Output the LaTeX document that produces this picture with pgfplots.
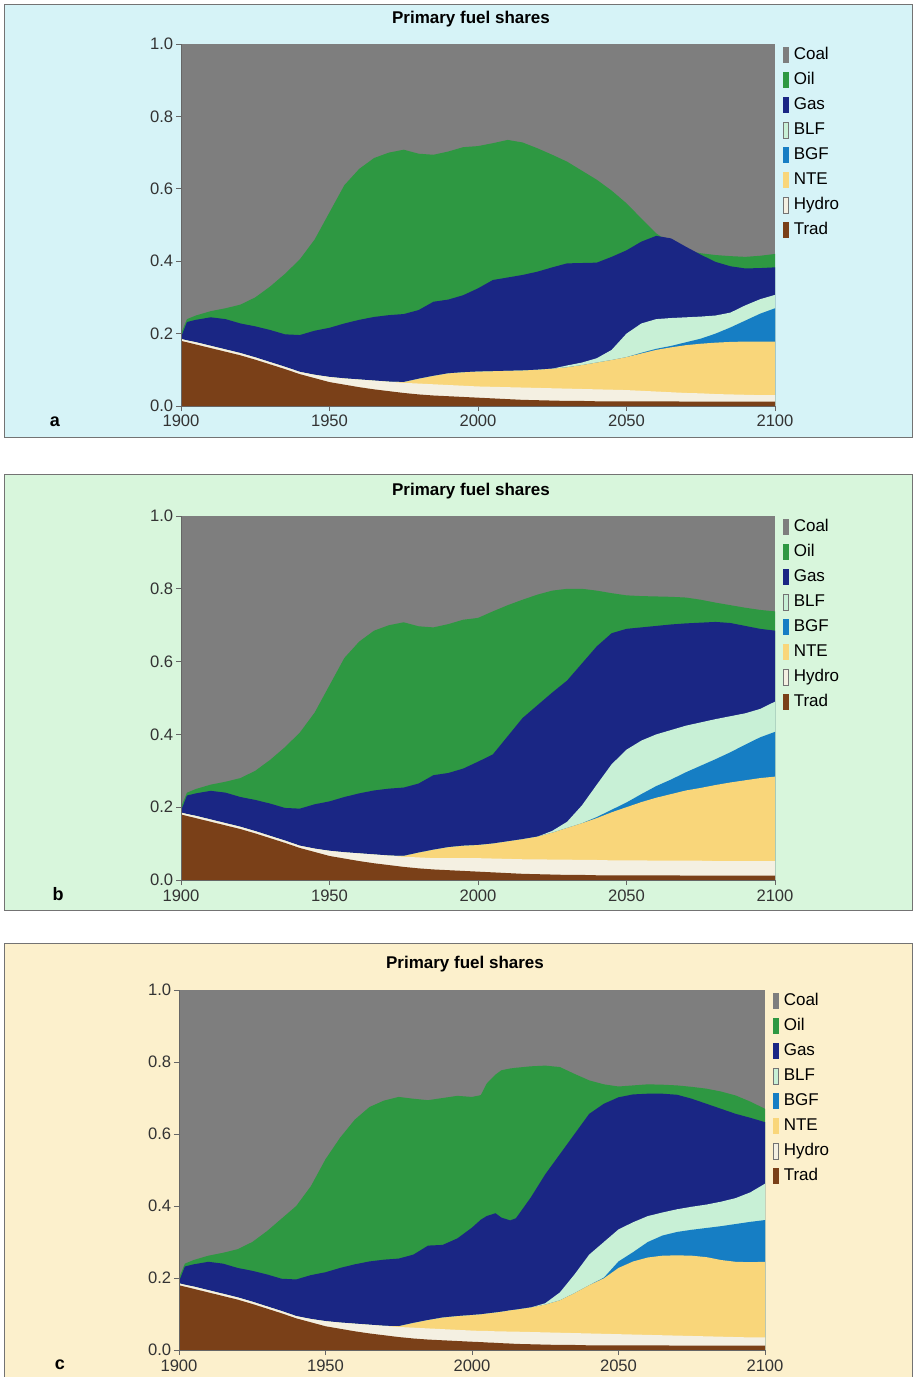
\documentclass[border=0pt]{standalone}
\usepackage{fontspec}
\setmainfont{Liberation Sans}
\usepackage{pgfplots}
\usepackage{pgfplotstable}
\pgfplotsset{compat=1.18}

\definecolor{coalc}{RGB}{126,126,126}
\definecolor{oilc}{RGB}{46,152,66}
\definecolor{gasc}{RGB}{26,38,132}
\definecolor{blfc}{RGB}{200,240,214}
\definecolor{bgfc}{RGB}{22,126,196}
\definecolor{ntec}{RGB}{249,214,122}
\definecolor{hydroc}{RGB}{244,240,226}
\definecolor{tradc}{RGB}{122,64,24}
\definecolor{bga}{RGB}{214,243,247}
\definecolor{bgb}{RGB}{216,246,220}
\definecolor{bgc}{RGB}{252,240,204}

\pgfplotstableread{
yr trad hydro nte bgf blf gas oil
1900 .180 .185 .185 .185 .185 .190 .200
1902 .176 .181 .181 .181 .181 .232 .240
1905 .170 .176 .176 .176 .176 .238 .250
1910 .160 .166 .166 .166 .166 .245 .262
1915 .150 .156 .156 .156 .156 .240 .270
1920 .140 .146 .146 .146 .146 .228 .280
1925 .128 .134 .134 .134 .134 .220 .300
1930 .115 .121 .121 .121 .121 .210 .330
1935 .102 .108 .108 .108 .108 .198 .365
1940 .088 .094 .094 .094 .094 .196 .405
1945 .077 .086 .086 .086 .086 .208 .460
1950 .066 .080 .080 .080 .080 .216 .535
1955 .059 .076 .076 .076 .076 .228 .610
1960 .052 .073 .073 .073 .073 .238 .655
1965 .046 .070 .070 .070 .070 .246 .685
1970 .041 .067 .067 .067 .067 .251 .700
1975 .036 .064 .066 .066 .066 .254 .708
1980 .032 .062 .075 .075 .075 .265 .697
1985 .029 .060 .083 .083 .083 .288 .694
1990 .027 .058 .090 .090 .090 .294 .703
1995 .025 .056 .093 .093 .093 .306 .715
2000 .023 .054 .095 .095 .095 .325 .718
2005 .021 .053 .096 .096 .096 .348 .726
2010 .019 .052 .097 .097 .097 .355 .735
2015 .017 .051 .098 .098 .098 .362 .728
2020 .016 .050 .100 .100 .100 .371 .712
2025 .015 .049 .103 .103 .103 .383 .694
2030 .014 .048 .107 .107 .112 .394 .675
2035 .014 .047 .113 .113 .120 .395 .650
2040 .013 .046 .120 .120 .132 .396 .625
2045 .013 .045 .127 .127 .155 .412 .595
2050 .013 .044 .135 .135 .200 .430 .560
2055 .013 .042 .145 .147 .228 .454 .518
2060 .013 .040 .155 .158 .240 .470 .477
2065 .013 .038 .162 .166 .243 .463 .449
2070 .012 .036 .168 .176 .245 .440 .430
2075 .012 .035 .172 .186 .247 .418 .422
2080 .012 .033 .175 .200 .250 .398 .417
2085 .012 .032 .177 .217 .258 .386 .414
2090 .012 .031 .178 .236 .278 .380 .412
2095 .012 .030 .178 .255 .295 .381 .415
2100 .012 .030 .178 .270 .307 .383 .420
}\tabA

\pgfplotstableread{
yr trad hydro nte bgf blf gas oil
1900 .180 .185 .185 .185 .185 .190 .200
1902 .176 .181 .181 .181 .181 .232 .240
1905 .170 .176 .176 .176 .176 .238 .250
1910 .160 .166 .166 .166 .166 .245 .262
1915 .150 .156 .156 .156 .156 .240 .270
1920 .140 .146 .146 .146 .146 .228 .280
1925 .128 .134 .134 .134 .134 .220 .300
1930 .115 .121 .121 .121 .121 .210 .330
1935 .102 .108 .108 .108 .108 .198 .365
1940 .088 .094 .094 .094 .094 .196 .405
1945 .077 .086 .086 .086 .086 .208 .460
1950 .066 .080 .080 .080 .080 .216 .535
1955 .059 .076 .076 .076 .076 .228 .610
1960 .052 .073 .073 .073 .073 .238 .655
1965 .046 .070 .070 .070 .070 .246 .685
1970 .041 .067 .067 .067 .067 .251 .700
1975 .036 .064 .066 .066 .066 .254 .708
1980 .032 .062 .075 .075 .075 .265 .697
1985 .029 .060 .083 .083 .083 .288 .694
1990 .027 .060 .090 .090 .090 .294 .703
1995 .025 .060 .094 .094 .094 .306 .715
2000 .023 .060 .096 .096 .096 .325 .720
2005 .021 .059 .100 .100 .100 .345 .738
2010 .019 .058 .106 .106 .106 .395 .755
2015 .017 .057 .112 .112 .112 .445 .770
2020 .016 .057 .119 .119 .119 .480 .784
2025 .015 .056 .130 .130 .135 .515 .795
2030 .014 .056 .143 .143 .160 .548 .800
2035 .014 .055 .156 .156 .205 .595 .800
2040 .013 .055 .170 .173 .262 .642 .795
2045 .013 .054 .186 .193 .318 .678 .788
2050 .013 .054 .200 .213 .358 .690 .782
2055 .013 .054 .214 .236 .383 .694 .780
2060 .013 .053 .226 .258 .400 .698 .779
2065 .013 .053 .236 .276 .412 .702 .778
2070 .012 .053 .246 .296 .424 .705 .776
2075 .012 .053 .253 .314 .433 .707 .770
2080 .012 .052 .261 .332 .442 .709 .762
2085 .012 .052 .268 .351 .450 .706 .755
2090 .012 .052 .274 .372 .458 .698 .748
2095 .012 .052 .280 .392 .470 .690 .742
2100 .012 .052 .284 .407 .490 .685 .738
}\tabB

\pgfplotstableread{
yr trad hydro nte bgf blf gas oil
1900 .180 .185 .185 .185 .185 .190 .200
1902 .176 .181 .181 .181 .181 .232 .240
1905 .170 .176 .176 .176 .176 .238 .250
1910 .160 .166 .166 .166 .166 .245 .262
1915 .150 .156 .156 .156 .156 .240 .270
1920 .140 .146 .146 .146 .146 .228 .280
1925 .128 .134 .134 .134 .134 .220 .300
1930 .115 .121 .121 .121 .121 .210 .330
1935 .102 .108 .108 .108 .108 .198 .365
1940 .088 .094 .094 .094 .094 .196 .400
1945 .077 .086 .086 .086 .086 .208 .455
1950 .066 .080 .080 .080 .080 .216 .530
1955 .059 .076 .076 .076 .076 .228 .590
1960 .052 .073 .073 .073 .073 .238 .640
1965 .046 .070 .070 .070 .070 .246 .675
1970 .041 .067 .067 .067 .067 .251 .693
1975 .036 .064 .066 .066 .066 .254 .703
1980 .032 .062 .075 .075 .075 .265 .698
1985 .029 .060 .083 .083 .083 .290 .694
1990 .027 .058 .090 .090 .090 .292 .700
1995 .025 .056 .094 .094 .094 .310 .706
2000 .023 .054 .097 .097 .097 .340 .703
2003 .022 .053 .099 .099 .099 .362 .708
2005 .021 .053 .101 .101 .101 .372 .740
2008 .020 .052 .104 .104 .104 .380 .765
2010 .019 .052 .106 .106 .106 .368 .777
2013 .018 .051 .110 .110 .110 .360 .782
2015 .017 .051 .112 .112 .112 .366 .784
2020 .016 .050 .118 .118 .118 .423 .788
2025 .015 .049 .126 .126 .130 .488 .790
2030 .014 .048 .138 .138 .160 .544 .786
2035 .014 .047 .158 .158 .210 .600 .767
2040 .013 .046 .180 .180 .265 .656 .749
2045 .013 .045 .199 .201 .300 .684 .738
2050 .013 .044 .228 .246 .335 .702 .732
2055 .013 .043 .246 .272 .355 .710 .735
2060 .013 .042 .257 .300 .372 .712 .738
2065 .013 .041 .262 .318 .382 .712 .737
2070 .012 .040 .263 .328 .391 .709 .735
2075 .012 .039 .262 .334 .398 .698 .731
2080 .012 .038 .258 .339 .404 .684 .726
2085 .012 .037 .250 .344 .412 .670 .718
2090 .012 .036 .245 .350 .422 .656 .707
2095 .012 .035 .244 .356 .438 .645 .690
2100 .012 .035 .245 .361 .462 .633 .670
}\tabC

\pgfplotsset{
  lbox/.style={legend image code/.code={\fill[#1] (0pt,-4pt) rectangle (2.8pt,4pt);}},
  lobox/.style={legend image code/.code={\filldraw[fill=#1,draw=black!55,line width=0.35pt] (0.2pt,-3.8pt) rectangle (2.6pt,3.8pt);}},
  fuelaxis/.style={
    scale only axis,
    xmin=1900, xmax=2100, ymin=0, ymax=1,
    axis on top,
    axis x line*=bottom, axis y line*=left,
    axis line style={black!60, line width=0.4pt, -},
    tick align=outside, major tick length=2.5pt,
    tick style={black!60, line width=0.4pt},
    xtick={1900,1950,2000,2050,2100},
    ytick={0,0.2,0.4,0.6,0.8,1.0},
    ticklabel style={font=\fontsize{8.3}{10}\selectfont, text=black!80},
    x tick label style={/pgf/number format/1000 sep={}, inner sep=2pt},
    y tick label style={/pgf/number format/.cd, fixed, fixed zerofill, precision=1, /tikz/inner xsep=1.2pt},
    /pgf/number format/assume math mode=true,
    legend cell align=left,
    legend style={draw=none, fill=none, at={(1,1)}, anchor=north west, xshift=4pt, yshift=-1.5pt,
      inner sep=0pt, row sep=4.5pt, font=\fontsize{8.5}{10}\selectfont,
      nodes={inner xsep=2.4pt, inner ysep=0pt, text height=6.2pt, text depth=1.8pt}},
  },
}

\newcommand{\fuelplots}[1]{%
  \addplot[fill=coalc, draw=none, lbox=coalc] coordinates {(1900,1) (2100,1)} \closedcycle;
  \addplot[fill=oilc, draw=none, lbox=oilc] table[x=yr,y=oil]{#1} \closedcycle;
  \addplot[fill=gasc, draw=none, lbox=gasc] table[x=yr,y=gas]{#1} \closedcycle;
  \addplot[fill=blfc, draw=none, lobox=blfc] table[x=yr,y=blf]{#1} \closedcycle;
  \addplot[fill=bgfc, draw=none, lbox=bgfc] table[x=yr,y=bgf]{#1} \closedcycle;
  \addplot[fill=ntec, draw=none, lbox=ntec] table[x=yr,y=nte]{#1} \closedcycle;
  \addplot[fill=hydroc, draw=none, lobox=hydroc] table[x=yr,y=hydro]{#1} \closedcycle;
  \addplot[fill=tradc, draw=none, lbox=tradc] table[x=yr,y=trad]{#1} \closedcycle;
  \legend{Coal,Oil,Gas,BLF,BGF,NTE,Hydro,Trad}
}

\begin{document}
\begin{tikzpicture}
\useasboundingbox (0,0) rectangle (458pt,-688.5pt);
% panel backgrounds
\filldraw[fill=bga, draw=black!55, line width=0.5pt] (2pt,-2pt) rectangle (456pt,-218.5pt);
\filldraw[fill=bgb, draw=black!55, line width=0.5pt] (2pt,-237pt) rectangle (456pt,-455pt);
\filldraw[fill=bgc, draw=black!55, line width=0.5pt] (2pt,-471.5pt) rectangle (456pt,-692pt);

% panel a
\begin{axis}[fuelaxis, width=297pt, height=181pt, at={(90.5pt,-203pt)}, anchor=south west]
\fuelplots{\tabA}
\end{axis}
\node[font=\bfseries\fontsize{8.5}{10}\selectfont] at (235.5pt,-9.5pt) {Primary fuel shares};
\node[font=\bfseries\fontsize{9}{10}\selectfont] at (27.5pt,-211pt) {a};

% panel b
\begin{axis}[fuelaxis, width=297pt, height=182pt, at={(90.5pt,-440pt)}, anchor=south west]
\fuelplots{\tabB}
\end{axis}
\node[font=\bfseries\fontsize{8.5}{10}\selectfont] at (235.5pt,-245.5pt) {Primary fuel shares};
\node[font=\bfseries\fontsize{9}{10}\selectfont] at (29pt,-447pt) {b};

% panel c
\begin{axis}[fuelaxis, width=293pt, height=180pt, at={(89.5pt,-675pt)}, anchor=south west]
\fuelplots{\tabC}
\end{axis}
\node[font=\bfseries\fontsize{8.5}{10}\selectfont] at (232.5pt,-482pt) {Primary fuel shares};
\node[font=\bfseries\fontsize{9}{10}\selectfont] at (30pt,-682.5pt) {c};
\end{tikzpicture}
\end{document}
